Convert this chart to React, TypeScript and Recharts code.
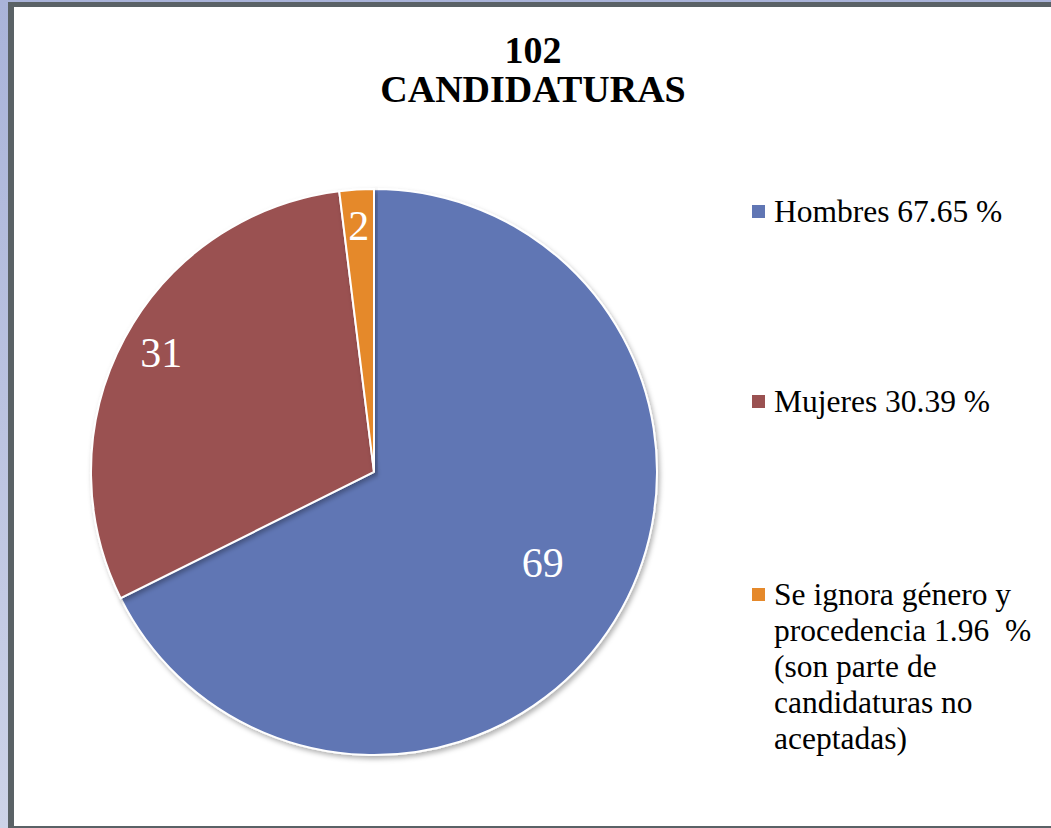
import React from 'react';
import { PieChart, Pie, Cell, Legend } from 'recharts';

const categories = [
  'Hombres 67.65 %',
  'Mujeres 30.39 %',
  'Se ignora género y\nprocedencia 1.96  %\n(son parte de\ncandidaturas no\naceptadas)',
];
const counts = [69, 31, 2];
const colors = ['#6076b4', '#9a5151', '#e5892b'];
const titleLines = ['102', 'CANDIDATURAS'];
const labelRadiusRatio = [0.677, 0.862, 0.871];
const labelAngleOffset = [3.5, -1, 0];

const data = categories.map((name, i) => ({ name, value: counts[i] }));

const FONT = '"Liberation Serif", "Times New Roman", serif';
const RAD = Math.PI / 180;
const LABEL_SIZE = 42;

const renderLabel = (props: any) => {
  const { cx, cy, midAngle, outerRadius, index, value } = props;
  const r = outerRadius * labelRadiusRatio[index];
  const a = midAngle + labelAngleOffset[index];
  const x = cx + r * Math.cos(-a * RAD);
  const y = cy + r * Math.sin(-a * RAD);
  return (
    <text
      x={x}
      y={y + LABEL_SIZE * 0.338}
      fill="#ffffff"
      textAnchor="middle"
      fontSize={LABEL_SIZE}
      fontFamily={FONT}
    >
      {value}
    </text>
  );
};

const legendTops = [194, 384, 577];

const LegendContent = (props: any) => {
  const payload = props.payload || [];
  return (
    <div style={{ position: 'relative', width: 300, height: 600 }}>
      {payload.map((entry: any, i: number) => (
        <div
          key={i}
          style={{
            position: 'absolute',
            left: 0,
            top: legendTops[i] - 190,
            display: 'flex',
            alignItems: 'flex-start',
          }}
        >
          <div
            style={{
              width: 13,
              height: 13,
              marginTop: 11,
              marginRight: 9,
              background: entry.color,
              flex: '0 0 auto',
            }}
          />
          <div
            style={{
              fontFamily: FONT,
              fontSize: 31.5,
              lineHeight: '36px',
              color: '#000',
              whiteSpace: 'pre',
            }}
          >
            {entry.value}
          </div>
        </div>
      ))}
    </div>
  );
};

export default function App() {
  return (
    <div
      style={{
        position: 'absolute',
        left: 0,
        top: 0,
        width: 1051,
        height: 828,
        background: 'linear-gradient(to bottom, #a9b3d9, #cdd3e8)',
        overflow: 'hidden',
      }}
    >
      <div
        style={{
          position: 'absolute',
          left: 8,
          top: 2,
          width: 1043,
          height: 826,
          boxSizing: 'border-box',
          borderLeft: '6px solid #5a6266',
          borderTop: '5px solid #5a6266',
          borderBottom: '2px solid #5a6266',
          background: '#ffffff',
        }}
      />
      <div style={{ position: 'absolute', left: 0, top: 0 }}>
        <PieChart width={1051} height={828} margin={{ top: 0, right: 0, bottom: 0, left: 0 }}>
          <defs>
            <filter id="pieShadow" x="-10%" y="-10%" width="120%" height="120%">
              <feDropShadow dx="2" dy="3" stdDeviation="2.5" floodColor="#000" floodOpacity="0.3" />
            </filter>
          </defs>
          <text
            x={533}
            y={63}
            textAnchor="middle"
            fontFamily={FONT}
            fontWeight="bold"
            fontSize={38}
            fill="#000"
          >
            {titleLines[0]}
          </text>
          <text
            x={533}
            y={102}
            textAnchor="middle"
            fontFamily={FONT}
            fontWeight="bold"
            fontSize={38}
            fill="#000"
          >
            {titleLines[1]}
          </text>
          <Pie
            data={data}
            dataKey="value"
            nameKey="name"
            cx={374}
            cy={472}
            outerRadius={283}
            startAngle={90}
            endAngle={-270}
            stroke="#ffffff"
            strokeWidth={2}
            label={renderLabel}
            labelLine={false}
            isAnimationActive={false}
            legendType="square"
            style={{ filter: 'url(#pieShadow)' }}
          >
            {data.map((d, i) => (
              <Cell key={i} fill={colors[i]} />
            ))}
          </Pie>
          <Legend
            content={<LegendContent />}
            wrapperStyle={{ position: 'absolute', left: 752, top: 190, width: 300, height: 600 }}
          />
        </PieChart>
      </div>
    </div>
  );
}
